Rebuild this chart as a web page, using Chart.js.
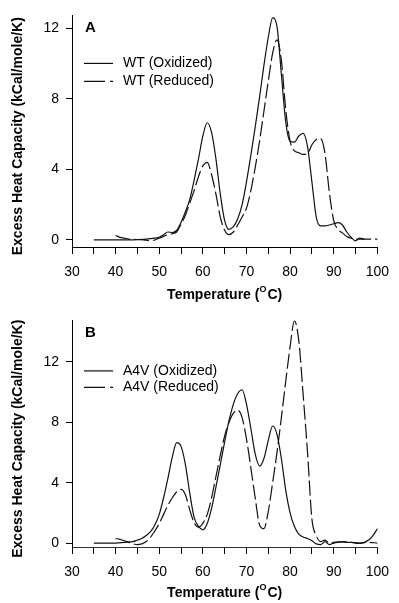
<!DOCTYPE html>
<html>
<head>
<meta charset="utf-8">
<script src="https://cdn.jsdelivr.net/npm/chart.js@4.4.1/dist/chart.umd.min.js"></script>
<style>
  html, body { margin: 0; padding: 0; background: #fff; }
  #wrap { position: relative; width: 399px; height: 603px; overflow: hidden; }
  canvas { position: absolute; left: 0; }
  #panelA { top: 0; }
  #panelB { top: 305px; }
</style>
</head>
<body>
<div id="wrap">
  <canvas id="panelA" width="399" height="305"></canvas>
  <canvas id="panelB" width="399" height="298"></canvas>
</div>
<script>
// TICKS
const xTicks = [30, 35, 40, 45, 50, 55, 60, 65, 70, 75, 80, 85, 90, 95, 100];
const yTicks = [0, 4, 8, 12];

// PANEL A - WT
const wtOxTemp = [35, 40, 45, 48, 50, 51, 52, 53, 54, 55, 56, 57, 58, 59, 60, 61, 62, 63, 64, 65, 66, 67, 68, 69, 70,
    71, 72, 73, 74, 75, 76, 77, 78, 79, 80, 81, 82, 83, 84, 85, 86, 87, 88, 89, 90, 91, 92, 93, 94, 95, 96, 97];
const wtOxCp = [0, 0, 0.02, 0.08, 0.15, 0.3, 0.45, 0.42, 0.55, 1.0, 1.6, 2.3, 3.4, 4.6, 5.9, 6.65, 6.1, 4.6, 2.6, 1.1, 0.6, 0.75, 1.2, 2.0, 3.3,
    4.8, 6.4, 8.1, 9.9, 11.5, 12.6, 12.1, 9.4, 6.7, 5.6, 5.55, 5.9, 6.05, 5.3, 3.3, 1.3, 0.8, 0.8, 0.85, 0.92, 0.98, 0.85, 0.45, 0.15, -0.05, 0.1, 0.03];

const wtRedTemp = [40, 41, 42, 43, 44, 46, 48, 49, 50, 51, 52, 53, 54, 55, 56, 57, 58, 59, 60, 61, 62, 63, 64, 65, 66, 67, 68, 69, 70,
    71, 72, 73, 74, 75, 76, 77, 78, 79, 80, 81, 82, 83, 84, 85, 86, 87, 88, 89, 90, 91, 92, 93, 94, 95, 96, 98, 100];
const wtRedCp = [0.25, 0.15, 0.1, 0.05, 0.03, 0.02, -0.05, 0, 0.1, 0.2, 0.3, 0.35, 0.45, 0.9, 1.4, 2.1, 2.8, 3.6, 4.2, 4.4, 3.7, 2.6, 1.3, 0.55, 0.3, 0.45, 0.85, 1.3, 1.8,
    2.8, 4.1, 5.6, 7.3, 9.0, 10.6, 11.35, 10.2, 7.4, 5.6, 5.05, 4.95, 4.85, 4.9, 5.4, 5.7, 5.75, 4.9, 2.7, 1.1, 0.6, 0.4, 0.2, 0.1, 0.05, 0.05, 0.05, 0.05];

// PANEL B - A4V
const a4vOxTemp = [35, 40, 42, 44, 45, 46, 47, 48, 49, 50, 51, 52, 53, 54, 55, 56, 57, 58, 59, 60, 61, 62, 63, 64, 65, 66, 67, 68, 69, 70,
    71, 72, 73, 74, 75, 76, 77, 78, 79, 80, 81, 82, 83, 84, 85, 86, 87, 88, 89, 90, 91, 92, 93, 94, 95, 96, 97, 98, 99, 100];
const a4vOxCp = [0, 0, 0.05, 0.1, 0.2, 0.3, 0.5, 0.75, 1.2, 1.9, 3.0, 4.3, 5.7, 6.65, 6.4, 5.2, 3.3, 1.7, 1.1, 0.88, 1.3, 2.3, 3.7, 5.2, 6.7, 8.1, 9.2, 9.9, 10.15, 9.2,
    7.6, 5.9, 5.1, 5.6, 6.8, 7.75, 7.2, 5.6, 3.5, 2.0, 1.1, 0.6, 0.4, 0.3, 0.15, -0.05, -0.1, 0.1, -0.1, 0, 0.05, 0.08, 0.05, 0.05, 0, -0.02, 0.05, 0.2, 0.5, 0.95];

const a4vRedTemp = [40, 41, 42, 43, 44, 45, 46, 47, 48, 49, 50, 51, 52, 53, 54, 55, 56, 57, 58, 59, 60, 61, 62, 63, 64, 65, 66, 67, 68, 69, 70,
    71, 72, 73, 74, 75, 76, 77, 78, 79, 80, 81, 82, 83, 84, 85, 86, 87, 88, 89, 90, 92, 94, 96, 98, 100];
const a4vRedCp = [0.3, 0.25, 0.15, 0.05, -0.05, -0.1, -0.05, 0.1, 0.4, 0.8, 1.3, 1.9, 2.5, 3.0, 3.4, 3.55, 3.2, 2.2, 1.35, 1.05, 1.3, 1.9, 3.0, 4.4, 5.8, 7.1, 8.0, 8.6, 8.8, 8.3, 6.9,
    5.0, 3.0, 1.2, 0.95, 2.1, 4.0, 6.0, 8.3, 10.7, 13.0, 14.7, 13.4, 9.8, 6.0, 1.6, 0.5, 0.1, 0.2, 0.0, 0.05, 0.1, 0.05, 0.0, 0.05, 0.0];

const FONT = '"Liberation Sans", Arial, Helvetica, sans-serif';
const INK = '#111';

function toPoints(temps, values) {
    return temps.map(function (t, i) { return { x: t, y: values[i] }; });
}

//DRAWS PANEL LETTER, LEGEND AND AXIS TITLES
const decor = {
    id: 'decor',
    afterDraw: function (chart, args, opts) {
        let ctx = chart.ctx;
        let a = chart.chartArea;
        ctx.save();
        ctx.fillStyle = '#000';
        ctx.textBaseline = 'middle';
        ctx.textAlign = 'left';

        //PANEL LETTER
        ctx.font = 'bold 15px ' + FONT;
        ctx.fillText(opts.letter, a.left + 13, a.top + opts.letterY);

        //LEGEND
        chart.data.datasets.forEach(function (ds, i) {
            let y = a.top + opts.legendY + i * opts.legendGap;
            ctx.beginPath();
            ctx.strokeStyle = INK;
            ctx.lineWidth = 1.2;
            ctx.setLineDash(ds.legendDash);
            ctx.moveTo(a.left + 12, y);
            ctx.lineTo(a.left + 41, y);
            ctx.stroke();
            ctx.setLineDash([]);
            ctx.font = '14px ' + FONT;
            ctx.fillText(ds.label, a.left + 51, y);
        });

        //X TITLE WITH SUPERSCRIPT O
        let big = 'bold 14px ' + FONT;
        let small = 'bold 9px ' + FONT;
        ctx.font = big;
        let w1 = ctx.measureText('Temperature (').width;
        let w3 = ctx.measureText('C)').width;
        ctx.font = small;
        let w2 = ctx.measureText('O').width + 1;
        let x0 = (a.left + a.right) / 2 - (w1 + w2 + w3) / 2;
        let ty = a.bottom + opts.xTitleY;
        ctx.font = big;
        ctx.fillText('Temperature (', x0, ty);
        ctx.font = small;
        ctx.fillText('O', x0 + w1, ty - 5);
        ctx.font = big;
        ctx.fillText('C)', x0 + w1 + w2, ty);

        //Y TITLE
        ctx.translate(18, (a.top + a.bottom) / 2 + 5);
        ctx.rotate(-Math.PI / 2);
        ctx.textAlign = 'center';
        ctx.font = big;
        ctx.fillText('Excess Heat Capacity (kCal/mole/K)', 0, 0);
        ctx.restore();
    }
};

function panel(canvasId, sets, yMin, yMax, cfg) {
    let el = document.getElementById(canvasId);
    return new Chart(el, {
        type: 'line',
        data: {
            datasets: sets.map(function (s) {
                return {
                    label: s.label,
                    data: toPoints(s.temps, s.values),
                    borderColor: INK,
                    borderWidth: 1.2,
                    borderDash: s.dash,
                    legendDash: s.legendDash,
                    pointRadius: 0,
                    fill: false,
                    cubicInterpolationMode: 'monotone',
                    clip: false
                };
            })
        },
        options: {
            responsive: false,
            devicePixelRatio: 1,
            animation: false,
            layout: { padding: { left: 0, top: cfg.top, right: 11, bottom: 0 } },
            plugins: {
                legend: { display: false },
                tooltip: { enabled: false },
                decor: cfg
            },
            scales: {
                x: {
                    type: 'linear',
                    min: 30,
                    max: 100,
                    afterBuildTicks: function (scale) {
                        scale.ticks = xTicks.map(function (v) { return { value: v }; });
                    },
                    afterFit: function (scale) { scale.height = cfg.xHeight; },
                    grid: { drawOnChartArea: false, color: '#000', tickLength: 7 },
                    border: { color: cfg.xBorder, width: 1, dash: cfg.xDash },
                    ticks: {
                        autoSkip: false,
                        maxRotation: 0,
                        padding: 10,
                        color: '#000',
                        font: { family: FONT, size: 14 },
                        callback: function (v) { return v % 10 === 0 ? v : ''; }
                    }
                },
                y: {
                    min: yMin,
                    max: yMax,
                    afterBuildTicks: function (scale) {
                        scale.ticks = yTicks.map(function (v) { return { value: v }; });
                    },
                    afterFit: function (scale) { scale.width = 72; },
                    grid: { drawOnChartArea: false, color: '#000', tickLength: 6 },
                    border: { color: '#000', width: 1 },
                    ticks: {
                        padding: 7,
                        color: '#000',
                        font: { family: FONT, size: 14 }
                    }
                }
            }
        },
        plugins: [decor]
    });
}

panel('panelA', [
    { label: 'WT (Oxidized)', temps: wtOxTemp, values: wtOxCp, dash: [], legendDash: [] },
    { label: 'WT (Reduced)', temps: wtRedTemp, values: wtRedCp, dash: [15, 4], legendDash: [21, 5] }
], -0.4, 12.74, {
    top: 15, xHeight: 58, xBorder: '#000', xDash: [],
    letter: 'A', letterY: 12, legendY: 48, legendGap: 18, xTitleY: 48
});

panel('panelB', [
    { label: 'A4V (Oxidized)', temps: a4vOxTemp, values: a4vOxCp, dash: [], legendDash: [] },
    { label: 'A4V (Reduced)', temps: a4vRedTemp, values: a4vRedCp, dash: [15, 4], legendDash: [21, 5] }
], -0.26, 14.74, {
    top: 12, xHeight: 56, xBorder: '#333', xDash: [1, 1],
    letter: 'B', letterY: 12, legendY: 50.5, legendGap: 16.5, xTitleY: 46
});
</script>
</body>
</html>
